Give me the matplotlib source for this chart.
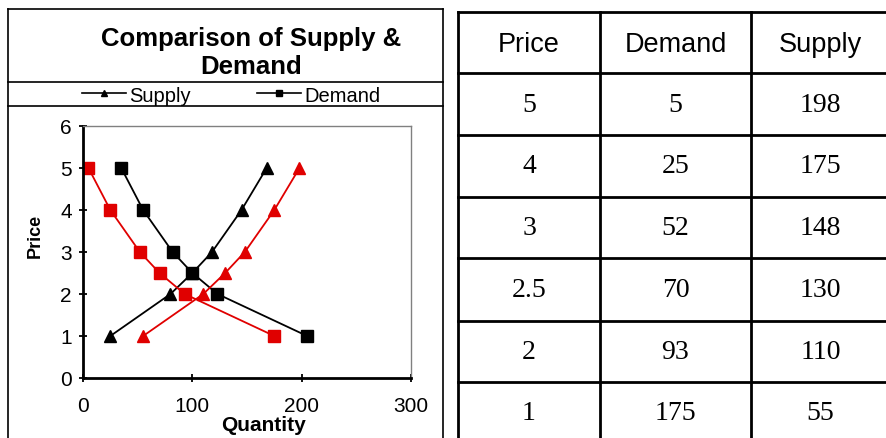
import matplotlib.pyplot as plt
from matplotlib.lines import Line2D

# data
price = [5, 4, 3, 2.5, 2, 1]
demand = [5, 25, 52, 70, 93, 175]
supply = [198, 175, 148, 130, 110, 55]
demand_old = [35, 55, 82, 100, 123, 205]
supply_old = [168, 145, 118, 100, 80, 25]
table_head = ['Price', 'Demand', 'Supply']
price_txt = ['5', '4', '3', '2.5', '2', '1']

W, H = 886, 439
RED = '#e00000'

def fx(px):
    return px / W

def fy(py):
    return 1 - py / H

fig = plt.figure(figsize=(W / 100, H / 100), dpi=100)
fig.patch.set_facecolor('white')

def hline(x0, x1, y, lw):
    fig.add_artist(Line2D([fx(x0), fx(x1)], [fy(y), fy(y)], color='black', lw=lw))

def vline(x, y0, y1, lw):
    fig.add_artist(Line2D([fx(x), fx(x)], [fy(y0), fy(y1)], color='black', lw=lw))

# chart panel frame
hline(8, 443, 10, 1.2)
hline(8, 443, 83, 1.2)
hline(8, 443, 107, 1.2)
vline(8, 10, 439, 1.2)
vline(443, 10, 439, 1.2)

fig.text(fx(251), fy(53), 'Comparison of Supply &\nDemand', ha='center', va='center',
         fontsize=18.5, fontweight='bold', family='Liberation Sans', linespacing=1.2)

# plot
ax = fig.add_axes([fx(83), fy(379), fx(411) - fx(83), fy(127) - fy(379)])
ax.plot(supply_old, price, '-^', color='black', lw=1.3, ms=8, label='Supply')
ax.plot(demand_old, price, '-s', color='black', lw=1.3, ms=9, label='Demand')
ax.plot(supply, price, '-^', color=RED, lw=1.3, ms=8)
ax.plot(demand, price, '-s', color=RED, lw=1.3, ms=9)
ax.set_xlim(0, 300)
ax.set_ylim(0, 6)
ax.set_xticks([0, 100, 200, 300])
ax.set_yticks(range(7))
for s in ['left', 'bottom']:
    ax.spines[s].set_linewidth(2)
for s in ['top', 'right']:
    ax.spines[s].set_linewidth(1)
    ax.spines[s].set_color('#808080')
ax.tick_params(direction='inout', length=6, width=1.3, labelsize=15)
ax.tick_params(axis='y', pad=5)
ax.tick_params(axis='x', pad=10)
for lab in ax.get_xticklabels() + ax.get_yticklabels():
    lab.set_family('Liberation Sans')
ax.set_xlabel('Quantity', fontsize=15, fontweight='bold', family='Liberation Sans', va='center')
ax.xaxis.set_label_coords(0.549, -0.183)
ax.set_ylabel('Price', fontsize=13, fontweight='bold', family='Liberation Sans', va='center')
ax.yaxis.set_label_coords(-0.146, 0.567)

handles = [Line2D([], [], color='black', marker='^', ms=5, lw=1.2),
           Line2D([], [], color='black', marker='s', ms=5, lw=1.2)]
fig.legend(handles, ['Supply', 'Demand'], loc='center', bbox_to_anchor=(fx(231), fy(96)),
           ncol=2, frameon=False, handlelength=2.2, columnspacing=3.3, handletextpad=0.15,
           prop={'family': 'Liberation Sans', 'size': 14.5})

# table
cols = [458, 600, 751, 900]
rows = [13, 74, 136, 198, 259, 322, 383]
for y in rows:
    hline(458, 886, y, 2)
for x in cols[:3]:
    vline(x, 13, 439, 2)

for i, t in enumerate(table_head):
    fig.text(fx((cols[i] + cols[i + 1]) / 2 - (5 if i == 2 else 0)), fy(45), t,
             ha='center', va='center', fontsize=19.5, family='Liberation Sans')

for r in range(6):
    yc = (rows[r + 1] + rows[r + 2]) / 2 if r < 5 else (383 + 445) / 2
    vals = [price_txt[r], str(demand[r]), str(supply[r])]
    for i, v in enumerate(vals):
        xc = (cols[i] + cols[i + 1]) / 2 - (5 if i == 2 else 0)
        fig.text(fx(xc), fy(yc), v, ha='center', va='center', fontsize=20, family='Liberation Serif')

fig.savefig('out.png', dpi=100)
